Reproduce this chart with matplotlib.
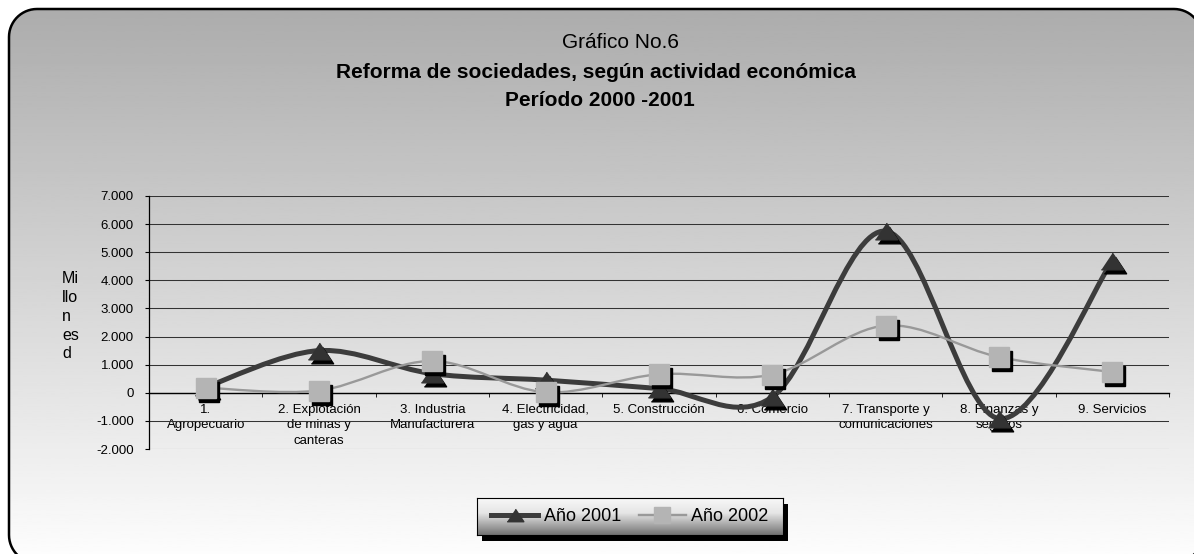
"""Reforma de sociedades, según actividad económica (2000-2001), Excel-style
smoothed line chart rebuilt with matplotlib into out.png."""
import numpy as np
import matplotlib

matplotlib.use("Agg")
import matplotlib.pyplot as plt
from matplotlib.path import Path
from matplotlib.patches import PathPatch, Polygon, Rectangle
from matplotlib.lines import Line2D
from matplotlib.ticker import FuncFormatter
from matplotlib.transforms import offset_copy, IdentityTransform

plt.rcParams["font.family"] = ["Liberation Sans", "DejaVu Sans"]

W, H = 1194, 554

CATEGORIES = [
    "1.\nAgropecuario",
    "2. Explotación\nde minas y\ncanteras",
    "3. Industria\nManufacturera",
    "4. Electricidad,\ngas y agua",
    "5. Construcción",
    "6. Comercio",
    "7. Transporte y\ncomunicaciones",
    "8. Finanzas y\nseguros",
    "9. Servicios",
]
ANO_2001 = [200, 1500, 680, 450, 150, -150, 5750, -920, 4690]
ANO_2002 = [180, 80, 1130, 20, 660, 650, 2390, 1270, 740]
Y_TICKS = [-2000, -1000, 0, 1000, 2000, 3000, 4000, 5000, 6000, 7000]

DARK = "#3c3c3c"
TRI = "#333333"
LIGHT_LINE = "#999999"
SQUARE = "#b4b4b4"
GRID = "#333333"


def smooth_path(xs, ys):
    """Bezier path through the points, Excel 'smoothed line' style."""
    n = len(xs)
    verts = [(xs[0], ys[0])]
    codes = [Path.MOVETO]
    for i in range(n - 1):
        a = i - 1 if i > 0 else i
        d = i + 2 if i + 2 < n else i + 1
        c1 = (xs[i] + (xs[i + 1] - xs[a]) / 6, ys[i] + (ys[i + 1] - ys[a]) / 6)
        c2 = (xs[i + 1] - (xs[d] - xs[i]) / 6, ys[i + 1] - (ys[d] - ys[i]) / 6)
        verts += [c1, c2, (xs[i + 1], ys[i + 1])]
        codes += [Path.CURVE4] * 3
    return Path(verts, codes)


def rounded_frame(x0, x1, top, bottom, r):
    """Rounded rectangle as a plain polygon in output pixels (bottom-up y).

    Straight segments only, so Agg's canvas clipping leaves no artefacts for
    the edges that run past the image."""
    t, b = H - top, H - bottom
    a = np.linspace(0, np.pi / 2, 16)
    pts = []
    for cx, cy, start in ((x1 - r, t - r, 0), (x0 + r, t - r, np.pi / 2),
                          (x0 + r, b + r, np.pi), (x1 - r, b + r, 1.5 * np.pi)):
        pts += list(zip(cx + r * np.cos(start + a), cy + r * np.sin(start + a)))
    return pts


fig = plt.figure(figsize=(W / 100, H / 100), dpi=100)
fig.patch.set_facecolor("white")

# Rounded chart frame; right and bottom edges run past the image.
frame = Polygon(rounded_frame(9, 1202, 9, 563, 28), closed=True,
                transform=IdentityTransform(), facecolor="none",
                edgecolor="black", linewidth=1.8, zorder=-5)
fig.add_artist(frame)

# Vertical grey gradient behind everything, clipped to the frame.
bg = fig.add_axes([0, 0, 1, 1], zorder=-10)
grad = np.linspace(0.67, 0.99, 256).reshape(-1, 1)
im = bg.imshow(grad, cmap="gray", vmin=0, vmax=1, extent=[0, 1, 0, 1],
               aspect="auto")
bg.set_xlim(0, 1)
bg.set_ylim(0, 1)
bg.axis("off")
im.set_clip_path(frame)

# Titles.
fig.text(621 / W, 1 - 42 / H, "Gráfico No.6", ha="center", va="center",
         fontsize=15)
fig.text(596 / W, 1 - 73 / H, "Reforma de sociedades, según actividad económica",
         ha="center", va="center", fontsize=15, fontweight="bold")
fig.text(600 / W, 1 - 100 / H, "Período 2000 -2001", ha="center",
         va="center", fontsize=15, fontweight="bold")
fig.text(62 / W, 1 - 271 / H, "Mi\nllo\nn\nes\nd", fontsize=11.5, ha="left",
         va="top", linespacing=1.32)

# Main plot area.
ax = fig.add_axes([149 / W, 1 - 449 / H, (1169 - 149) / W, (449 - 196) / H])
ax.set_facecolor("none")
x = np.arange(len(CATEGORIES))
ax.set_xlim(-0.5, len(CATEGORIES) - 0.5)
ax.set_ylim(-2000, 7000)
ax.set_yticks(Y_TICKS)
ax.yaxis.set_major_formatter(
    FuncFormatter(lambda v, _: f"{v:,.0f}".replace(",", ".")))
ax.grid(True, axis="y", color=GRID, linewidth=0.75)
ax.set_axisbelow(True)
for s in ("top", "right"):
    ax.spines[s].set_visible(False)
ax.spines["left"].set_color("black")
ax.spines["left"].set_linewidth(0.9)
ax.spines["bottom"].set_position(("data", 0))
ax.spines["bottom"].set_color("black")
ax.spines["bottom"].set_linewidth(1.0)
ax.tick_params(axis="y", labelsize=9.5, length=3, pad=8, color="black")
ax.set_xticks(x)
ax.set_xticklabels(CATEGORIES, fontsize=9.5, linespacing=1.4, va="top")
ax.set_xticks(x + 0.5, minor=True)
ax.tick_params(axis="x", which="major", length=0, pad=8)
ax.tick_params(axis="x", which="minor", length=3, color="black")

# Smoothed lines.
ax.add_patch(PathPatch(smooth_path(x, ANO_2001), fill=False, edgecolor=DARK,
                       linewidth=3.6, capstyle="round", joinstyle="round",
                       zorder=3))
shadow = offset_copy(ax.transData, fig=fig, x=3, y=-4, units="dots")
tri = [(-1, -0.75), (1, -0.75), (0, 0.75)]
ax.plot(x, ANO_2001, linestyle="none", marker=tri, markersize=16,
        color="black", transform=shadow, zorder=4)
ax.plot(x, ANO_2001, linestyle="none", marker=tri, markersize=16,
        color=TRI, zorder=4)

ax.add_patch(PathPatch(smooth_path(x, ANO_2002), fill=False,
                       edgecolor=LIGHT_LINE, linewidth=1.7, capstyle="round",
                       joinstyle="round", zorder=5))
ax.plot(x, ANO_2002, linestyle="none", marker="s", markersize=14,
        color="black", transform=shadow, zorder=6)
ax.plot(x, ANO_2002, linestyle="none", marker="s", markersize=14,
        color=SQUARE, markeredgecolor=SQUARE, zorder=6)

# Legend box with gradient fill and black drop shadow.
lx0, ly0, lw, lh = 477, 498, 306, 37
fig.patches.append(Rectangle(((lx0 + 5) / W, 1 - (ly0 + lh + 6) / H), lw / W,
                             lh / H, transform=fig.transFigure,
                             facecolor="black", edgecolor="none", zorder=1))
lax = fig.add_axes([lx0 / W, 1 - (ly0 + lh) / H, lw / W, lh / H], zorder=2)
lgrad = np.concatenate([np.linspace(0.97, 0.9, 40),
                        np.linspace(0.9, 0.45, 60)]).reshape(-1, 1)
lax.imshow(lgrad, cmap="gray", vmin=0, vmax=1, aspect="auto",
           extent=[0, 1, 0, 1])
lax.set_xticks([])
lax.set_yticks([])
for s in lax.spines.values():
    s.set_linewidth(0.8)
handles = [
    Line2D([], [], color=DARK, linewidth=3.6, marker=tri, markersize=12,
           markerfacecolor=TRI, markeredgecolor=TRI),
    Line2D([], [], color=LIGHT_LINE, linewidth=1.7, marker="s", markersize=12,
           markerfacecolor=SQUARE, markeredgecolor=SQUARE),
]
fig.legend(handles, ["Año 2001", "Año 2002"], ncol=2, frameon=False,
           loc="center", bbox_to_anchor=((lx0 + lw / 2) / W,
                                         1 - (ly0 + lh / 2) / H),
           fontsize=13, handlelength=2.6, handletextpad=0.3,
           columnspacing=1.0, borderpad=0.2)

fig.savefig("out.png", dpi=100)
